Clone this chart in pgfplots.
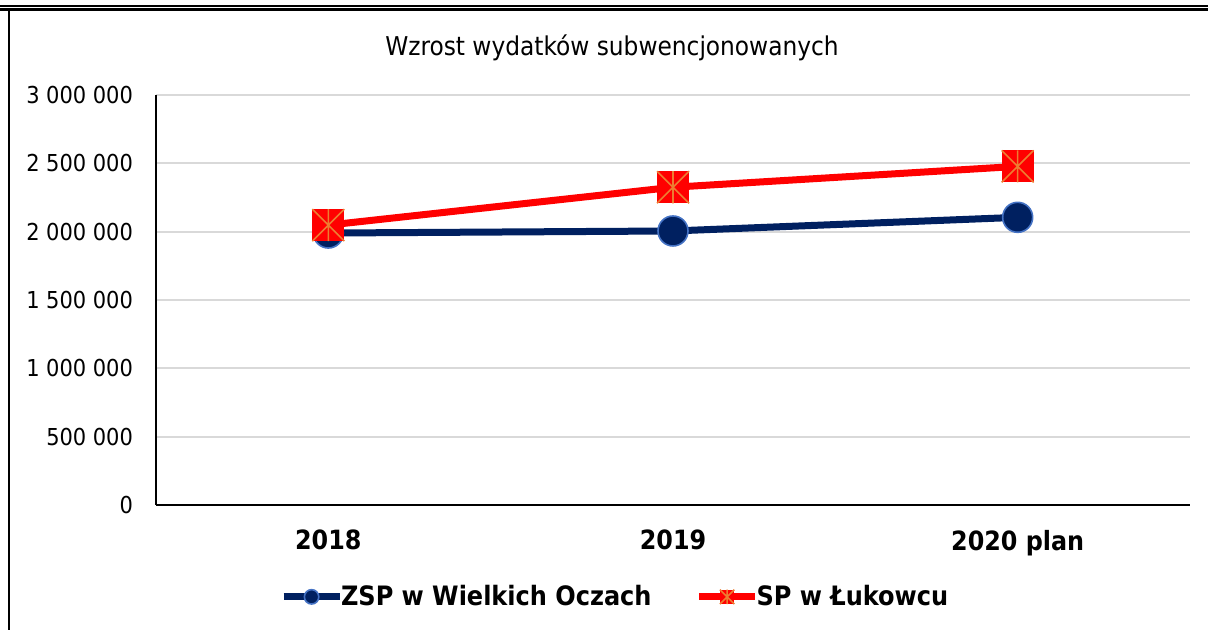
\documentclass[border=0pt]{standalone}
\usepackage{pgfplots}
\pgfplotsset{compat=1.18}
\usepackage{fontspec}
\setmainfont{DejaVu Sans Condensed}
\definecolor{navy}{RGB}{0,32,96}
\definecolor{edgeblue}{RGB}{68,114,196}
\definecolor{gridgray}{RGB}{217,217,217}
\definecolor{starorange}{RGB}{237,125,49}
\pgfdeclareplotmark{sqstar}{%
  \pgfpathrectangle{\pgfqpoint{-\pgfplotmarksize}{-\pgfplotmarksize}}{\pgfqpoint{2\pgfplotmarksize}{2\pgfplotmarksize}}%
  \pgfsetfillcolor{red}\pgfusepath{fill}%
  \pgfsetstrokecolor{starorange}\pgfsetlinewidth{0.8pt}%
  \pgfpathmoveto{\pgfqpoint{-\pgfplotmarksize}{-\pgfplotmarksize}}\pgfpathlineto{\pgfqpoint{\pgfplotmarksize}{\pgfplotmarksize}}%
  \pgfpathmoveto{\pgfqpoint{-\pgfplotmarksize}{\pgfplotmarksize}}\pgfpathlineto{\pgfqpoint{\pgfplotmarksize}{-\pgfplotmarksize}}%
  \pgfpathmoveto{\pgfqpoint{0pt}{-\pgfplotmarksize}}\pgfpathlineto{\pgfqpoint{0pt}{\pgfplotmarksize}}%
  \pgfusepath{stroke}%
}
\begin{document}
\begin{tikzpicture}
\path[use as bounding box] (0,0) rectangle (604bp,315bp);
\draw[line width=0.6bp] (0,312bp) -- (604bp,312bp);
\draw[line width=1.2bp] (0,310.2bp) -- (604bp,310.2bp);
\draw[line width=1.2bp] (4.5bp,310.2bp) -- (4.5bp,0);
\node[font=\fontsize{13}{15}\selectfont] at (306bp,291bp) {Wzrost wydatków subwencjonowanych};
\begin{axis}[
  at={(78bp,62.5bp)}, anchor=south west,
  scale only axis, width=517bp, height=205bp,
  xmin=-0.5, xmax=2.5, ymin=0, ymax=3000000,
  scaled y ticks=false,
  xtick={0,1,2}, xticklabels={2018,2019,2020 plan},
  ytick={0,500000,1000000,1500000,2000000,2500000,3000000},
  yticklabels={0,500 000,1 000 000,1 500 000,2 000 000,2 500 000,3 000 000},
  axis x line*=bottom, axis y line*=left,
  axis line style={black, line width=0.6bp, -},
  major tick length=0pt,
  ymajorgrids, grid style={gridgray, line width=1bp},
  yticklabel style={font=\fontsize{11.7}{13}\selectfont, xshift=-8bp},
  xticklabel style={font=\bfseries\fontsize{13.3}{15}\selectfont, yshift=-9bp},
  legend columns=2,
  legend style={at={(0.445,-0.224)}, anchor=center, draw=none, fill=none,
    font=\bfseries\fontsize{13.4}{15}\selectfont,
    /tikz/every even column/.append style={column sep=20bp},
    /tikz/every odd column/.append style={column sep=-3bp}},
  legend image code/.code={
    \draw[#1, mark size=3.6bp, mark repeat=2, mark phase=2] plot coordinates {(0bp,0bp) (14bp,0bp) (28bp,0bp)};
  },
  clip=false,
]
\addplot[navy, line width=3.5bp, mark=*, mark size=7.5bp, mark options={fill=navy, draw=edgeblue, line width=0.8bp}]
  coordinates {(0,1990000) (1,2005000) (2,2105000)};
\addlegendentry{ZSP w Wielkich Oczach}
\addplot[red, line width=3.5bp, mark=sqstar, mark size=8bp]
  coordinates {(0,2048000) (1,2325000) (2,2478000)};
\addlegendentry{SP w Łukowcu}
\end{axis}
\end{tikzpicture}
\end{document}
